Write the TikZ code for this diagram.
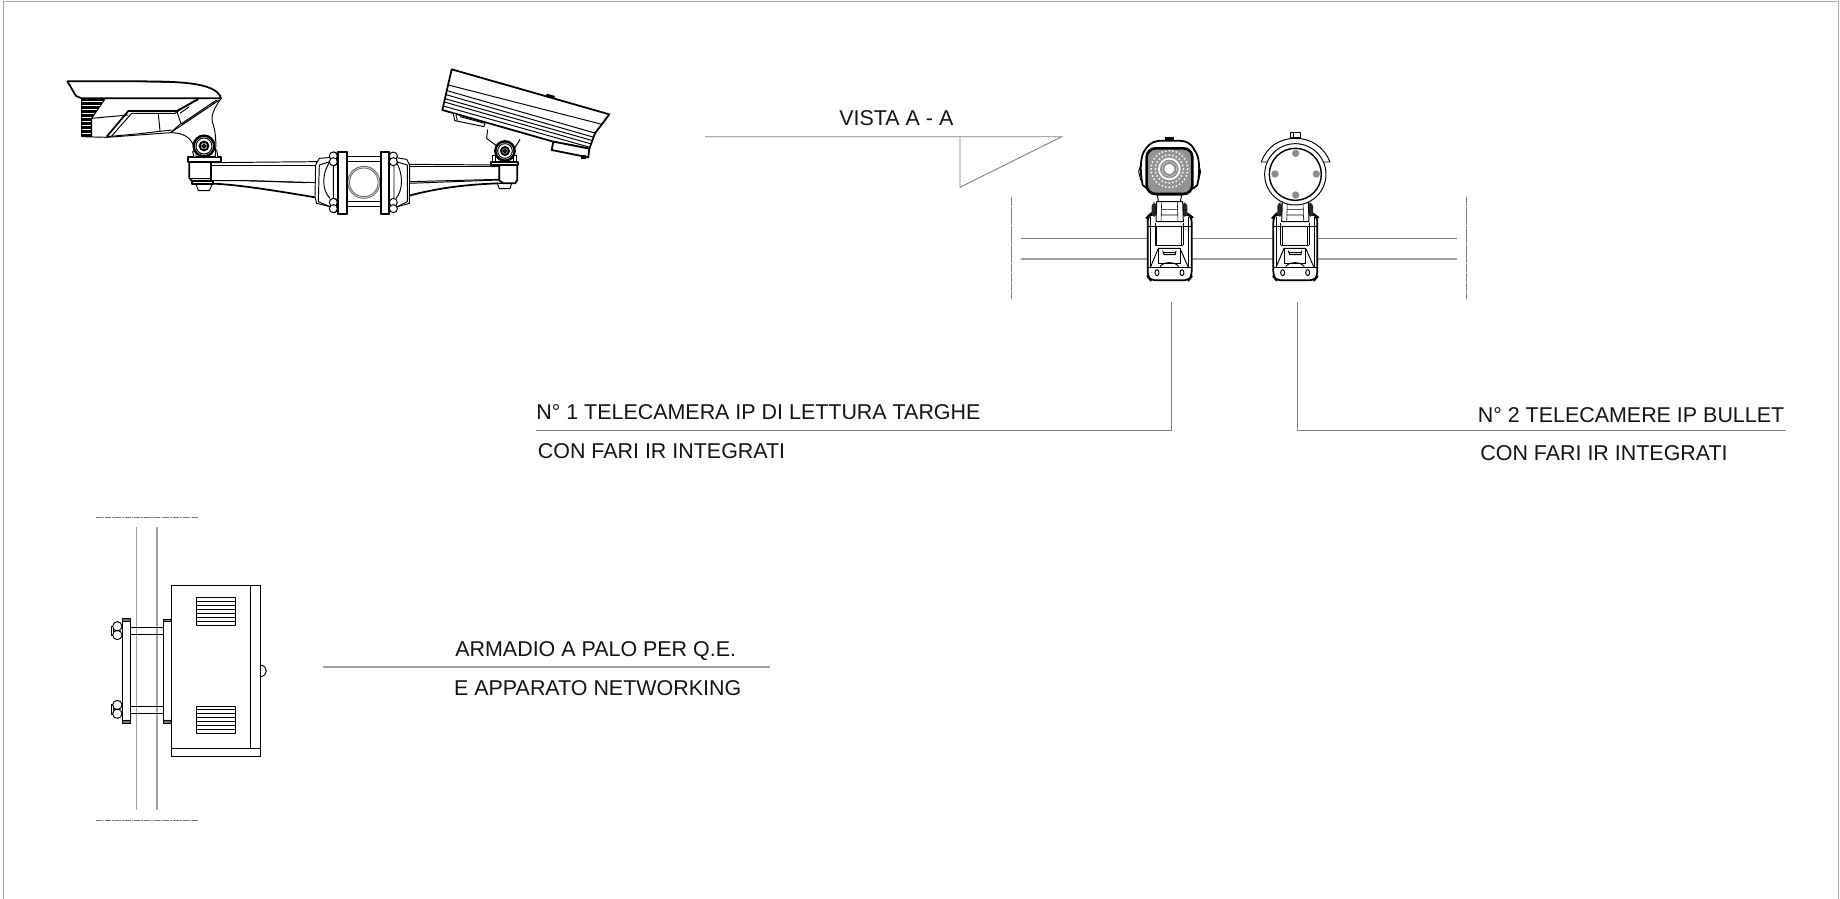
\documentclass[tikz,border=0pt]{standalone}
\usepackage{fontspec}
\setmainfont{Liberation Sans}
\definecolor{frameg}{HTML}{A8A8A8}
\definecolor{leadg}{HTML}{808080}
\definecolor{poleg}{HTML}{A0A0A0}
\definecolor{ledg}{HTML}{8C8C8C}
\tikzset{
  zoomed/.style 2 args={shift={(#1,#2)},x=0.0066667cm,y=-0.0066667cm},
  ink/.style={line width=0.55pt,black,line join=round},
  thin ink/.style={line width=0.32pt,black,line join=round},
  heavy/.style={line width=1pt,black,line join=round},
  leader/.style={line width=0.5pt,leadg},
  pole/.style={line width=0.65pt,poleg},
  centre/.style={line width=0.5pt,leadg,dash pattern=on 5pt off 0.4pt},
  label/.style={anchor=base west,inner sep=0pt,font=\fontsize{12.2}{14}\selectfont,text=black!92}
}
\newcommand{\bolts}[1]{%
  \foreach \yy in {318,335,457,476}{\draw[ink,fill=white] (#1,\yy) circle (12);}
}
\newcommand{\mountdraw}{%
  % neck
  \draw[ink,fill=white] (172,225) -- (176,250) -- (240,250) -- (245,225) -- cycle;
  % base
  \draw[heavy,fill=white,rounded corners=3pt] (143,290) -- (143,470) -- (152,481) -- (266,481) -- (275,470) -- (275,290) -- (266,283) -- (150,283) -- cycle;
  \draw[ink] (152,290) -- (152,440) (266,290) -- (266,440);
  \draw[ink] (165,308) -- (165,375) (250,308) -- (250,375) (143,320) -- (275,320);
  \draw[thin ink] (170,320) -- (170,375) (245,320) -- (245,375);
  \draw[ink] (165,375) -- (250,375);
  \draw[ink] (152,440) -- (175,385) -- (240,385) -- (264,440);
  \draw[ink] (175,385) -- (175,430) -- (240,430) -- (240,385);
  \draw[ink] (188,392) -- (192,404) -- (226,404) -- (228,392) (190,398) -- (226,398);
  \draw[ink] (180,440) .. controls (190,424) and (226,424) .. (236,440);
  \draw[ink] (145,442) -- (273,442);
  \draw[ink] (171,458) ellipse (6 and 9) (246,458) ellipse (6 and 9);
  % hinge
  \fill[black!85,rounded corners=2pt] (155,248) rectangle (170,290) (246,248) rectangle (262,290);
  \draw[ink,fill=white] (170,245) -- (248,245) -- (250,305) -- (168,305) -- cycle;
  \draw[thin ink] (185,245) -- (183,305) (232,245) -- (234,305) (183,268) -- (234,268) (183,285) -- (234,285);
}
\begin{document}
\begin{tikzpicture}[x=0.02cm,y=-0.02cm]
\useasboundingbox (0,0) rectangle (1840,899);
\fill[white] (0,0) rectangle (1840,899);
% sheet frame
\draw[line width=0.9pt,frameg] (3.5,899) -- (3.5,1.5) -- (1838.5,1.5) -- (1838.5,899);

% ---- labels
\node[label] (vista) at (839,125) {VISTA A - A};
\node[label] (tele1) at (536,419) {N° 1 TELECAMERA IP DI LETTURA TARGHE};
\node[label] (fari1) at (537.5,458.5) {CON FARI IR INTEGRATI};
\node[label] (tele2) at (1477.5,422) {N° 2 TELECAMERE IP BULLET};
\node[label] (fari2) at (1480,460) {CON FARI IR INTEGRATI};
\node[label] (arma) at (455,656) {ARMADIO A PALO PER Q.E.};
\node[label] (appa) at (453.8,695) {E APPARATO NETWORKING};

% ---- section mark
\coordinate (va) at (705,136.7);
\coordinate (vb) at (960,136.7);
\coordinate (vc) at (1061.7,136.7);
\coordinate (vd) at (960,187.3);
\draw[leader] (va) -- (vc) -- (vd) -- (vb);

% ---- leaders
\coordinate (l1a) at (536,430);
\coordinate (l1b) at (1171.5,430);
\coordinate (l1c) at (1171.5,302);
\coordinate (l2a) at (1786,430);
\coordinate (l2b) at (1297,430);
\coordinate (l2c) at (1297,302);
\draw[leader] (l1a) -- (l1b) -- (l1c);
\draw[leader] (l2a) -- (l2b) -- (l2c);
\coordinate (l3a) at (323.3,667);
\coordinate (l3b) at (770,667);
\draw[line width=0.65pt,poleg] (l3a) -- (l3b);

% ---- pole and centre lines (front view)
\draw[line width=0.55pt,leadg] (1021,238.3) -- (1457,238.3);
\draw[pole] (1021,259) -- (1457,259);
\draw[centre] (1011,197.3) -- (1011,299.3);
\draw[centre] (1466.7,197.3) -- (1466.7,299.3);

% ---- front camera with IR leds
\begin{scope}[zoomed={1100}{120}]
  \mountdraw
  \fill[black] (195,52) rectangle (222,62);
  \draw[ink,fill=white] (200,62) rectangle (218,80);
  \draw[heavy,fill=white] (128,195) .. controls (118,150) and (122,105) .. (135,90) .. controls (150,66) and (165,62) .. (190,62) -- (228,62) .. controls (255,62) and (272,66) .. (283,90) .. controls (298,105) and (302,150) .. (292,195) -- (280,205) -- (140,205) -- cycle;
  \draw[ink] (122,135) -- (116,155) -- (122,180) (296,135) -- (302,155) -- (296,180);
  \draw[line width=1.5pt,black,fill=black!42,rounded corners=5pt] (140,85) rectangle (277,222);
  \draw[white,line width=1pt] (208,147) circle (31);
  \fill[white] (208,147) circle (22);
  \draw[ledg,line width=1.1pt] (208,147) circle (18);
  \foreach \a in {0,15,...,345}{\fill[white] (208,147)++(\a:42) circle (3);}
  \foreach \a in {0,11.25,...,349}{\fill[white] (208,147)++(\a:55) circle (3);}
\end{scope}

% ---- front camera, round back
\begin{scope}[zoomed={1225.67}{120}]
  \mountdraw
\end{scope}
\begin{scope}[zoomed={1100}{120}]
  \draw[ink,fill=white] (570,38) rectangle (600,53);
  \draw[ink] (580,38) -- (580,53);
  \draw[ink,fill=white] (484,126) -- (510,126) -- (665,126) -- (690,126) .. controls (672,80) and (632,55) .. (586,55) .. controls (540,55) and (500,80) .. (484,126) -- cycle;
  \draw[ink,fill=white] (586,163) circle (92);
  \draw[line width=0.8pt,black] (586,163) circle (78);
  \foreach \p in {(587,100),(525,162),(649,162),(587,225)}{\fill[ledg] \p circle (11);}
\end{scope}

% ---- top view, left camera and arm
\begin{scope}[zoomed={50}{50}]
  % back ribs
  \foreach \yy in {148,152,...,260}{\draw[line width=0.45pt,black] (95,\yy) -- (125,\yy);}
  \foreach \yy/\xx in {148/165,152/162,156/159,160/156,164/153,168/150,172/147,176/144,180/141,184/138,188/135,192/132,196/129,200/126}{\draw[line width=0.45pt,black] (125,\yy) -- (\xx,\yy);}
  \draw[ink] (95,145) -- (95,260) -- (170,262) (125,205) -- (125,262);
  \draw[ink] (165,147) -- (125,205);
  % hood
  \draw[heavy] (52,94) -- (240,94) .. controls (380,94) and (500,95) .. (513,145) -- (95,145) -- (78,138) -- cycle;
  \draw[ink] (240,94) -- (375,97);
  % body
  \draw[ink] (125,205) -- (235,195);
  \draw[heavy] (170,260) -- (235,183) -- (380,183) -- (445,148);
  \draw[ink] (185,258) -- (245,190) -- (320,190) -- (375,190) -- (435,150);
  \draw[ink] (170,260) -- (260,252) -- (365,240);
  \draw[ink] (325,190) -- (330,243);
  \draw[ink] (380,183) -- (393,220) -- (362,248);
  \draw[ink] (390,190) -- (418,170);
  \draw[ink] (362,248) -- (508,150) (393,222) -- (500,150);
  \draw[ink] (170,262) -- (362,248) .. controls (400,248) and (420,262) .. (430,285);
  % right neck
  \draw[ink] (513,145) .. controls (490,180) and (480,200) .. (490,225) .. controls (498,250) and (498,280) .. (497,300);
  % arm
  \draw[heavy] (430,398) .. controls (520,402) and (560,402) .. (795,442);
  \draw[ink,fill=white] (483,338) -- (800,335) -- (800,398) -- (590,392) -- (483,392) -- cycle;
  \draw[ink] (483,345) -- (800,345);
  \draw[ink] (590,392) -- (770,398);
  % collar
  \draw[ink,fill=white] (797,345) -- (808,325) -- (850,322) -- (850,478) -- (840,470) -- (800,460) -- (795,440) -- cycle;
  \draw[ink] (808,345) -- (840,335) .. controls (815,370) and (815,420) .. (840,445);
  \draw[ink] (808,345) -- (805,455) -- (840,470);
  % block and plate
  \draw[ink,fill=white] (438,402) -- (487,402) -- (478,422) -- (445,422) -- cycle;
  \draw[heavy,fill=white] (425,392) rectangle (490,402);
  \draw[heavy,fill=white] (418,335) -- (418,385) -- (425,392) -- (483,392) -- (483,335) -- cycle;
  \draw[ink] (418,385) -- (483,385);
  \draw[heavy,fill=white] (413,322) rectangle (512,335);
  \draw[ink,fill=white] (428,305) -- (432,322) -- (438,322) -- (438,305) -- cycle (496,300) -- (496,322) -- (504,322) -- (500,300) -- cycle;
  % ball
  \draw[line width=1.4pt,fill=white] (462,288) circle (31);
  \draw[ink] (462,288) circle (24);
  \draw[line width=1.1pt] (462,288) circle (13);
  \draw[line width=0.9pt] (462,288) circle (5);
  % centre housing
  \draw[ink] (890,320) -- (992,320) (890,453) -- (992,453) (890,335) -- (992,335) (890,470) -- (992,470);
  \draw[line width=0.5pt,black!60] (941.5,397) circle (48) (941.5,397) circle (43);
  \bolts{852}
  \draw[heavy,fill=white] (865,307) rectangle (890,493);
  \draw[heavy,fill=white] (992,307) rectangle (1018,493);
\end{scope}

% ---- top view, right camera and arm
\begin{scope}[zoomed={310}{50}]
  % arm
  \draw[heavy] (298,437) .. controls (390,412) and (480,403) .. (565,400);
  \draw[ink,fill=white] (295,343) -- (568,345) -- (568,390) -- (295,400) -- cycle;
  \draw[ink] (295,350) -- (568,350);
  \draw[ink] (300,395) -- (568,388);
  % collar
  \draw[ink,fill=white] (299,345) -- (290,328) -- (252,322) -- (252,478) -- (262,470) -- (298,460) -- cycle;
  \draw[ink] (292,345) -- (258,335) .. controls (280,370) and (280,420) .. (258,445);
  \draw[ink] (292,345) -- (292,455) -- (262,470);
  \bolts{250}
  % block
  \draw[ink,fill=white] (562,400) -- (605,400) -- (600,416) -- (568,416) -- cycle;
  \draw[heavy,fill=white] (568,345) -- (568,392) -- (580,400) -- (615,400) -- (622,390) -- (622,345) -- cycle;
  \draw[heavy,fill=white] (543,335) rectangle (625,345);
  \draw[ink,fill=white] (548,315) rectangle (557,335) (610,315) rectangle (618,335);
  % camera brackets
  \draw[ink] (533,238) -- (530,265) -- (563,290) (630,268) -- (612,298) -- (612,315);
  % camera body
  \draw[heavy,fill=white] (425,58) -- (898,193) -- (855,250) -- (838,296) -- (730,275) -- (397,180) -- cycle;
  \fill[black] (710,131) -- (735,138) -- (732,147) -- (708,140) -- cycle;
  \draw[ink] (415,105) -- (872,222);
  \draw[ink] (411,122) -- (858,250);
  \draw[ink] (408,134) -- (852,262);
  \draw[ink] (405,146) -- (848,272);
  \draw[ink] (403,156) -- (844,282);
  \draw[ink] (400,168) -- (840,292);
  \draw[heavy,fill=white] (730,275) -- (725,300) -- (835,322) -- (838,296) -- cycle;
  \fill[black] (812,316) rectangle (828,326);
  \draw[ink,fill=white] (430,190) -- (434,212) -- (445,214) -- (522,230) -- (525,220) -- (450,200);
  \draw[ink] (438,194) -- (442,212);
  % ball
  \draw[line width=1.4pt,fill=white] (585,303) circle (29);
  \draw[ink] (585,303) circle (22);
  \draw[line width=1.1pt] (585,303) circle (12);
  \draw[line width=0.9pt] (585,303) circle (5);
  % centre housing
  \bolts{70}
  \draw[heavy,fill=white] (85,307) rectangle (110,493);
  \draw[heavy,fill=white] (212,307) rectangle (237,493);
\end{scope}

% ---- cabinet on pole
\begin{scope}[zoomed={80}{500}]
  \draw[line width=0.5pt,black!55,dash pattern=on 3.5pt off 0.5pt on 1pt off 0.5pt] (47,52) -- (353,52) (47,960) -- (353,960);
  \draw[pole] (169,82) -- (169,930) (231,82) -- (231,930);
  % brackets
  \draw[ink] (151,382) -- (250,382) (151,404) -- (250,404) (151,618) -- (250,618) (151,640) -- (250,640);
  \draw[ink,fill=white] (127,365) rectangle (151,660);
  \draw[line width=0.9pt] (127,365) -- (127,660);
  \draw[ink,fill=black!55] (127,356) rectangle (151,365) (127,660) rectangle (151,670);
  \draw[ink,fill=white] (250,365) rectangle (275,660);
  \draw[ink,fill=black!55] (250,357) rectangle (275,365) (250,660) rectangle (275,670);
  % bolts
  \foreach \yy in {392,628}{
    \draw[ink,fill=white] (93,\yy-14) rectangle (100,\yy+14);
    \draw[ink,fill=white] (112,\yy-13) circle (14) (112,\yy+13) circle (14);
  }
  % cabinet
  \draw[ink,fill=white] (541,495) .. controls (565,497) and (565,528) .. (541,530) -- cycle;
  \draw[line width=0.75pt,fill=white] (275,257) rectangle (541,770);
  \draw[line width=0.75pt] (512,257) -- (512,745) (275,745) -- (541,745);
  \foreach \top in {293,618}{
    \draw[ink] (349,\top) rectangle (466,\top+82);
    \foreach \dd in {11,23,35,47,59,71}{\draw[ink] (349,\top+\dd) -- (466,\top+\dd);}
  }
\end{scope}
\end{tikzpicture}
\end{document}
